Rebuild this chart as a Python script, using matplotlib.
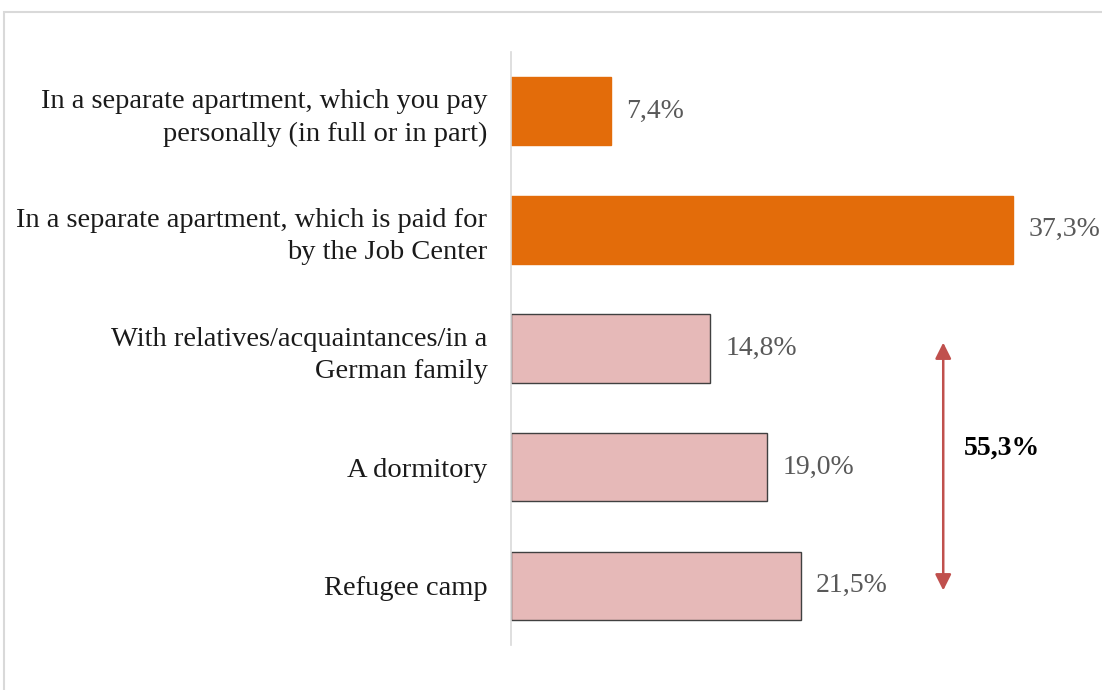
import matplotlib
matplotlib.use("Agg")
import matplotlib.pyplot as plt
from matplotlib.patches import Rectangle

categories = [
    "In a separate apartment, which you pay\npersonally (in full or in part)",
    "In a separate apartment, which is paid for\nby the Job Center",
    "With relatives/acquaintances/in a\nGerman family",
    "A dormitory",
    "Refugee camp",
]
values = [7.4, 37.3, 14.8, 19.0, 21.5]
labels = ["7,4%", "37,3%", "14,8%", "19,0%", "21,5%"]
highlight = [True, True, False, False, False]
group_total = "55,3%"

plt.rcParams['font.family'] = ['Liberation Serif', 'DejaVu Serif']

fig = plt.figure(figsize=(11.02, 6.9), dpi=100)

# light grey frame around the chart
fig.patches.append(Rectangle((4 / 1102, -0.01), 1.1, 1 - 12 / 690 + 0.01,
                             transform=fig.transFigure, fill=False,
                             edgecolor='#d9d9d9', linewidth=1.5))

ax = fig.add_axes([511 / 1102, 1 - 645 / 690, 579 / 1102, (645 - 52) / 690])

pos = list(range(len(categories)))
colors = ['#e36c0a' if h else '#e6b9b8' for h in highlight]
edges = ['#e36c0a' if h else '#404040' for h in highlight]
ax.barh(pos, values, height=0.575, color=colors, edgecolor=edges, linewidth=1.0)

for p, v, lab in zip(pos, values, labels):
    ax.annotate(lab, (v, p), xytext=(11, 0), textcoords='offset points',
                va='center', ha='left', fontsize=20, color='#595959')

ax.set_yticks(pos)
ax.set_yticklabels(categories, fontsize=20.5, color='#1a1a1a', linespacing=1.38)
ax.tick_params(axis='y', length=0, pad=17)
ax.set_xticks([])
ax.set_xlim(0, 43.0)
ax.set_ylim(4.5, -0.5)

for s in ['top', 'right', 'bottom']:
    ax.spines[s].set_visible(False)
ax.spines['left'].set_color('#d9d9d9')
ax.spines['left'].set_linewidth(1.2)

# bracket arrow over the three lower groups
ax.annotate('', xy=(32.1, 1.95), xytext=(32.1, 4.04),
            arrowprops=dict(arrowstyle='<|-|>', color='#c0504d', lw=1.8,
                            mutation_scale=24, shrinkA=0, shrinkB=0))
ax.text(33.6, 2.84, group_total, fontsize=20, fontweight='bold',
        color='black', va='center', ha='left')

fig.savefig('out.png', dpi=100)
